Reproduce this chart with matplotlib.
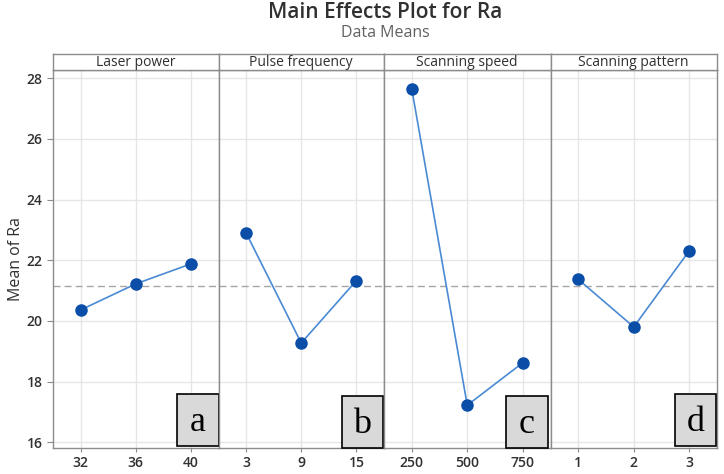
import matplotlib
matplotlib.use("Agg")
import matplotlib.pyplot as plt
from matplotlib.patches import Rectangle

# === data ===
factors = ["Laser power", "Pulse frequency", "Scanning speed", "Scanning pattern"]
level_labels = [["32", "36", "40"], ["3", "9", "15"], ["250", "500", "750"], ["1", "2", "3"]]
laser_power = [20.36, 21.22, 21.88]
pulse_freq = [22.90, 19.27, 21.33]
scan_speed = [27.65, 17.22, 18.62]
scan_pattern = [21.37, 19.80, 22.31]
grand_mean = 21.16
panel_tags = ["a", "b", "c", "d"]
y_ticks = [16, 18, 20, 22, 24, 26, 28]

means = [laser_power, pulse_freq, scan_speed, scan_pattern]

W, H = 724, 474
plt.rcParams["font.family"] = ["Open Sans", "DejaVu Sans"]

fig = plt.figure(figsize=(W / 100, H / 100), dpi=100)

# panel edges in pixels
edges = [53, 218.5, 384, 550.5, 717]
top_px, bot_px, strip_top = 70, 448, 54
# tag box (x0, y0) in axes fraction
tag_pos = [(0.752, 0.005), (0.745, 0.0), (0.735, 0.0), (0.747, 0.005)]

line_col = "#4a8ad4"
mark_col = "#0a4ea8"
spine_col = "#8c8c8c"
grid_col = "#e6e6e6"
text_col = "#303030"

for i, name in enumerate(factors):
    l, r = edges[i], edges[i + 1]
    ax = fig.add_axes([l / W, 1 - bot_px / H, (r - l) / W, (bot_px - top_px) / H])
    x = [1, 2, 3]
    ax.plot(x, means[i], color=line_col, lw=1.2, zorder=3)
    ax.plot(x, means[i], "o", color=mark_col, ms=8, zorder=4)
    ax.axhline(grand_mean, color="#a6a6a6", lw=1.0, ls=(0, (5, 3)), zorder=2)
    ax.set_xlim(0.5, 3.5)
    ax.set_ylim(15.81, 28.27)
    ax.set_xticks(x)
    ax.set_xticklabels(level_labels[i], fontweight="semibold")
    ax.set_yticks(y_ticks)
    ax.grid(True, color=grid_col, lw=1.0, zorder=0)
    ax.set_axisbelow(True)
    for s in ax.spines.values():
        s.set_color(spine_col)
        s.set_linewidth(1.0)
    ax.tick_params(axis="x", length=3, color=spine_col, labelsize=10,
                   labelcolor=text_col, pad=3)
    if i == 0:
        ax.tick_params(axis="y", length=4, color=spine_col, labelsize=10,
                       labelcolor=text_col)
        for t in ax.get_yticklabels():
            t.set_fontweight("semibold")
        ax.set_ylabel("Mean of Ra", fontsize=11.5, color=text_col, labelpad=2)
    else:
        ax.tick_params(axis="y", left=False, labelleft=False)

    # tag box
    bx, by = tag_pos[i]
    ax.add_patch(Rectangle((bx, by), 0.248, 0.138, transform=ax.transAxes,
                           facecolor="#d9d9d9", edgecolor="black", lw=1.2,
                           zorder=6, clip_on=False))
    ax.text(bx + 0.124, by + 0.062, panel_tags[i], transform=ax.transAxes,
            ha="center", va="center", fontsize=26, family="Liberation Serif",
            zorder=7)

    # header strip
    sax = fig.add_axes([l / W, 1 - top_px / H, (r - l) / W, (top_px - strip_top) / H])
    sax.set_xticks([])
    sax.set_yticks([])
    for s in sax.spines.values():
        s.set_color(spine_col)
        s.set_linewidth(1.0)
    sax.text(0.5, 0.5, name, ha="center", va="center", fontsize=10,
             color=text_col, transform=sax.transAxes)

cx = (edges[0] + edges[-1]) / 2 / W
fig.text(cx, 1 - 13 / H, "Main Effects Plot for Ra", ha="center", va="center",
         fontsize=15, fontweight="semibold", color=text_col)
fig.text(cx, 1 - 33 / H, "Data Means", ha="center", va="center",
         fontsize=11.5, color="#606060")

fig.savefig("out.png", dpi=100)
